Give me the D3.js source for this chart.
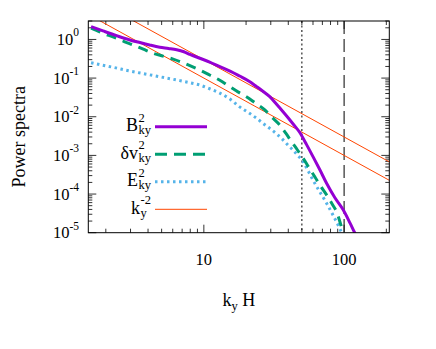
<!DOCTYPE html>
<html><head><meta charset="utf-8">
<script src="https://cdn.jsdelivr.net/npm/d3@7"></script>
<style>body{margin:0;background:#fff}svg{display:block}
svg text{font-family:"Liberation Serif",Times,"Times New Roman","DejaVu Serif",serif}</style>
</head><body><svg id="c" width="436" height="349"></svg>
<script>
// ---- data ----
const kB = [1.57, 1.91, 2.39, 2.97, 3.5, 4.1, 4.85, 5.6, 6.4, 7.2, 7.95, 9.36, 11, 13, 15.5, 18, 21, 23.8, 26.5, 29.5, 33, 36.7, 40, 43.3, 48.3, 54, 60, 67, 75, 86, 98.5, 110, 119, 130];
const vB = [2.14, 1.66, 1.25, 0.97, 0.83, 0.72, 0.63, 0.585, 0.54, 0.48, 0.41, 0.326, 0.26, 0.198, 0.15, 0.113, 0.083, 0.06, 0.045, 0.033, 0.021, 0.0135, 0.0093, 0.0065, 0.0039, 0.0019, 9.3e-4, 4.3e-4, 1.9e-4, 8e-5, 3.9e-5, 1.8e-5, 1e-5, 5.5e-6];
const kV = [1.57, 1.9, 2.32, 2.7, 3.13, 3.7, 4.35, 5.1, 6.04, 7.0, 7.95, 9.4, 11, 13, 15.3, 17.5, 20.1, 23.5, 27.2, 30.5, 34.8, 38.5, 42.2, 46.5, 51, 56, 61.8, 68, 75, 82, 88.3, 98.5, 110];
const vV = [1.95, 1.45, 1.11, 0.88, 0.72, 0.56, 0.44, 0.37, 0.31, 0.255, 0.21, 0.16, 0.12, 0.088, 0.06, 0.044, 0.033, 0.022, 0.015, 0.0098, 0.0061, 0.0037, 0.00226, 0.00138, 8.5e-4, 4.9e-4, 2.8e-4, 1.6e-4, 9.5e-5, 5.6e-5, 3.5e-5, 1e-5, 3e-6];
const kE = [1.57, 1.9, 2.26, 2.9, 3.9, 5.2, 6.75, 7.95, 9.36, 11, 13, 15.5, 18, 21, 23.8, 26.5, 29.5, 33, 36, 39.5, 43, 47, 51, 55, 60, 67, 75, 84, 93, 100];
const vE = [0.25, 0.215, 0.19, 0.155, 0.126, 0.103, 0.086, 0.076, 0.066, 0.053, 0.041, 0.028, 0.018, 0.0125, 0.0091, 0.0067, 0.005, 0.0036, 0.0027, 0.0019, 0.0014, 0.00098, 6.9e-4, 4.2e-4, 2.3e-4, 1.15e-4, 5.8e-5, 2.7e-5, 1.3e-5, 7e-6];
const refAmps = [10, 30];          // amplitudes of the k^-2 reference lines
const refK = [1.5, 210];
const vLinesK = [50, 100];         // dotted, dashed
const xTickLabels = [10, 100];
const yTickExps = [0, -1, -2, -3, -4, -5];
const legendLabels = [
  {main: "B", sup: "2", sub: "ky"},
  {main: "\u03b4v", sup: "2", sub: "ky"},
  {main: "E", sup: "2", sub: "ky"},
  {main: "k", sup: "-2", sub: "y"}
];

// ---- layout ----
const L = 88.3, R = 389.3, T = 21, Bm = 232.7;
const svg = d3.select("#c");
const x = d3.scaleLog().domain([1.5, 210]).range([L, R]);
const y = d3.scaleLog().domain([1e-5, 3]).range([Bm, T]);

svg.append("defs").append("clipPath").attr("id", "clip")
  .append("rect").attr("x", L).attr("y", T).attr("width", R - L).attr("height", Bm - T);

// ticks
const tickG = svg.append("g").attr("stroke", "#333").attr("stroke-width", 1);
const xMaj = [10, 100];
const xMin = [];
[1, 10, 100].forEach(d => { for (let i = 1; i <= 9; i++) { const v = d * i; if (v >= 1.5 && v <= 210 && !xMaj.includes(v)) xMin.push(v); } });
xMaj.forEach(v => {
  tickG.append("line").attr("x1", x(v)).attr("x2", x(v)).attr("y1", Bm).attr("y2", Bm - 8);
  tickG.append("line").attr("x1", x(v)).attr("x2", x(v)).attr("y1", T).attr("y2", T + 8);
});
xMin.forEach(v => {
  tickG.append("line").attr("x1", x(v)).attr("x2", x(v)).attr("y1", Bm).attr("y2", Bm - 4);
  tickG.append("line").attr("x1", x(v)).attr("x2", x(v)).attr("y1", T).attr("y2", T + 4);
});
const yMaj = yTickExps.map(e => Math.pow(10, e));
const yMin = [];
[1e-5, 1e-4, 1e-3, 1e-2, 1e-1, 1].forEach(d => { for (let i = 2; i <= 9; i++) { const v = d * i; if (v <= 3) yMin.push(v); } });
yMaj.forEach(v => {
  tickG.append("line").attr("x1", L).attr("x2", L + 8).attr("y1", y(v)).attr("y2", y(v));
  tickG.append("line").attr("x1", R).attr("x2", R - 8).attr("y1", y(v)).attr("y2", y(v));
});
yMin.forEach(v => {
  tickG.append("line").attr("x1", L).attr("x2", L + 4).attr("y1", y(v)).attr("y2", y(v));
  tickG.append("line").attr("x1", R).attr("x2", R - 4).attr("y1", y(v)).attr("y2", y(v));
});

// tick labels
xTickLabels.forEach(v => {
  svg.append("text").attr("x", x(v)).attr("y", 265).attr("text-anchor", "middle")
    .attr("font-size", 16.5).text(v);
});
yTickExps.forEach(e => {
  const t = svg.append("text").attr("x", 79).attr("y", y(Math.pow(10, e)) + 5.5)
    .attr("text-anchor", "end").attr("font-size", 16.5);
  t.append("tspan").text("10");
  t.append("tspan").attr("dy", -8.5).attr("font-size", 11.5).text(e);
});

// axis titles
const xt = svg.append("text").attr("x", (L + R) / 2).attr("y", 306).attr("text-anchor", "middle").attr("font-size", 18);
xt.append("tspan").text("k");
xt.append("tspan").attr("dy", 4).attr("font-size", 12.5).text("y");
xt.append("tspan").attr("dy", -4).text(" H");
svg.append("text").attr("transform", "translate(24.5,136.7) rotate(-90)").attr("text-anchor", "middle")
  .attr("font-size", 18).text("Power spectra");

// plot content
const g = svg.append("g").attr("clip-path", "url(#clip)");
const line = d3.line().x(d => x(d[0])).y(d => y(d[1])).curve(d3.curveMonotoneX);

// vertical lines
g.append("line").attr("x1", x(vLinesK[0])).attr("x2", x(vLinesK[0])).attr("y1", T).attr("y2", Bm)
  .attr("stroke", "#000").attr("stroke-width", 1).attr("stroke-dasharray", "2,2.5");
g.append("line").attr("x1", x(vLinesK[1])).attr("x2", x(vLinesK[1])).attr("y1", T).attr("y2", Bm)
  .attr("stroke", "#000").attr("stroke-width", 1).attr("stroke-dasharray", "13,5");

// reference lines
refAmps.forEach(A => {
  g.append("path").attr("d", d3.line().x(k => x(k)).y(k => y(A / (k * k)))(refK))
    .attr("fill", "none").attr("stroke", "#ff4500").attr("stroke-width", 1);
});

const colB = "#9400d3", colV = "#009e73", colE = "#56b4e9", colR = "#ff4500";
g.append("path").attr("d", line(kE.map((k, i) => [k, vE[i]])))
  .attr("fill", "none").attr("stroke", colE).attr("stroke-width", 3).attr("stroke-dasharray", "2.5,3.5");
g.append("path").attr("d", line(kV.map((k, i) => [k, vV[i]])))
  .attr("fill", "none").attr("stroke", colV).attr("stroke-width", 3).attr("stroke-dasharray", "10,7");
g.append("path").attr("d", line(kB.map((k, i) => [k, vB[i]])))
  .attr("fill", "none").attr("stroke", colB).attr("stroke-width", 3);

// frame
svg.append("rect").attr("x", L).attr("y", T).attr("width", R - L).attr("height", Bm - T)
  .attr("fill", "none").attr("stroke", "#000").attr("stroke-width", 1);

// legend
const rowsY = [126.7, 154.3, 181.7, 209.3];
const styles = [
  {c: colB, w: 3, d: null},
  {c: colV, w: 3, d: "12,7"},
  {c: colE, w: 3, d: "2.5,3.5"},
  {c: colR, w: 1, d: null}
];
legendLabels.forEach((lab, i) => {
  const ry = rowsY[i];
  const sup = svg.append("text").attr("y", ry - 5).attr("font-size", 12.5).text(lab.sup);
  const sub = svg.append("text").attr("y", ry + 7.5).attr("font-size", 12.5).text(lab.sub);
  const w = Math.max(sup.node().getComputedTextLength(), sub.node().getComputedTextLength());
  const sx = 151 - w;
  sup.attr("x", sx); sub.attr("x", sx);
  svg.append("text").attr("x", sx - 0.5).attr("y", ry + 4.5).attr("text-anchor", "end")
    .attr("font-size", 18).text(lab.main);
  const s = styles[i];
  const ln = svg.append("line").attr("x1", 155).attr("x2", 207).attr("y1", ry).attr("y2", ry)
    .attr("stroke", s.c).attr("stroke-width", s.w);
  if (s.d) ln.attr("stroke-dasharray", s.d);
});
</script></body></html>
